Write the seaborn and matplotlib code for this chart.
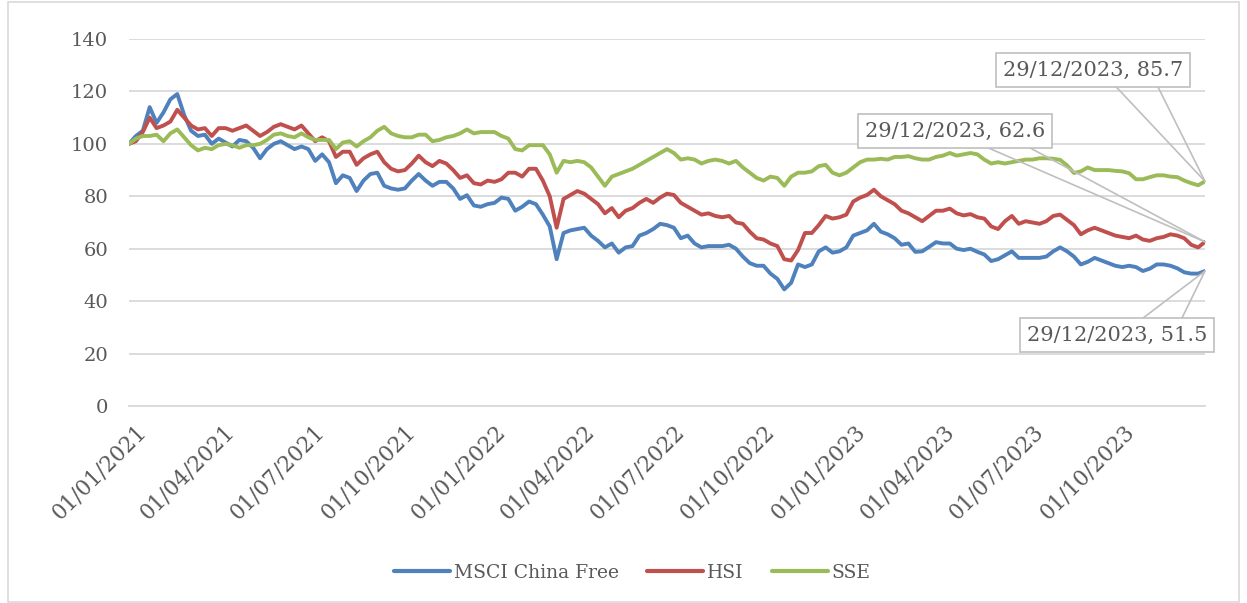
import numpy as np
import pandas as pd
import seaborn as sns
import matplotlib.pyplot as plt
import matplotlib.dates as mdates
import matplotlib.transforms as mtransforms
from matplotlib.patches import Rectangle


# Weekly readings of the rebased indices (01/01/2021 = 100)
dates = pd.date_range('2021-01-01', '2023-12-29', freq='7D')

msci = [
    100, 103, 105, 114, 108, 112, 117, 119, 111, 105, 103, 103.5, 100, 102,
    100.5, 99, 101.5, 101, 98.5, 94.5, 98, 100, 101, 99.5, 98, 99, 98,
    93.5, 96, 93, 85, 88, 87, 82, 86, 88.5, 89, 84, 83, 82.5, 83, 86, 88.5,
    86, 84, 85.5, 85.5, 83, 79, 80.4, 76.5, 76, 77,
    77.5, 79.5, 79, 74.5, 76, 78, 77, 73, 68.5, 56, 66, 67, 67.5, 68, 65, 63,
    60.5, 62, 58.5, 60.5, 61, 65, 66, 67.5, 69.5, 69,
    68, 64, 65, 62, 60.5, 61, 61, 61, 61.5, 60, 57, 54.5, 53.5, 53.5, 50.5,
    48.5, 44.5, 47, 54, 53, 54, 59, 60.5, 58.5, 59, 60.5,
    65, 66, 67, 69.5, 66.5, 65.5, 64, 61.5, 62, 58.8, 59, 60.7, 62.5, 62, 62,
    60, 59.5, 60, 58.8, 57.8, 55.3, 56, 57.5, 59, 56.5, 56.5,
    56.5, 56.5, 57, 59, 60.5, 59, 57, 54, 55, 56.5, 55.5, 54.5, 53.5, 53,
    53.5, 53, 51.5, 52.4, 54, 54, 53.5, 52.5, 51, 50.5, 50.5, 51.5,
]

hsi = [
    100, 101, 104.5, 110, 106, 107, 108.5, 113, 110, 107, 105.5, 106, 103,
    106, 106, 105, 106, 107, 105, 103, 104.5, 106.5, 107.5, 106.5, 105.5, 107,
    104,
    101, 102.5, 101, 95, 97, 97, 92, 94.5, 96, 97, 93, 90.5, 89.5, 90, 92.5,
    95.5, 93, 91.5, 93.5, 92.5, 90, 87, 88, 85, 84.5, 86,
    85.5, 86.5, 89, 89, 87.5, 90.5, 90.5, 86, 80, 68, 79, 80.5, 82, 81, 79,
    77, 73.5, 75.5, 72, 74.5, 75.5, 77.5, 79, 77.5, 79.5, 81,
    80.5, 77.5, 76, 74.5, 73, 73.5, 72.5, 72, 72.5, 70, 69.5, 66.5, 64, 63.5,
    62, 61, 56, 55.5, 59.5, 66, 66, 69, 72.5, 71.5, 72, 73,
    78, 79.5, 80.5, 82.5, 80, 78.5, 77, 74.5, 73.5, 72, 70.5, 72.5, 74.5,
    74.5, 75.3, 73.5, 72.7, 73.2, 72, 71.5, 68.5, 67.5, 70.5, 72.5, 69.5, 70.5,
    70, 69.5, 70.5, 72.5, 73, 71, 69, 65.5, 67, 68, 67, 66, 65, 64.5, 64, 65,
    63.5, 63, 64, 64.5, 65.5, 65, 64, 61.5, 60.5, 62.6,
]

sse = [
    100, 102, 103, 103, 103.5, 101, 104, 105.5, 102.5, 99.5, 97.5, 98.5, 98,
    99.5, 100, 99.5, 98.5, 99.5, 99.5, 100, 101.5, 103.5, 104, 103, 102.5, 104,
    102.5,
    101.5, 101.5, 101.5, 98, 100.5, 101, 99, 101, 102.5, 105, 106.5, 104, 103,
    102.5, 102.5, 103.5, 103.5, 101, 101.5, 102.5, 103, 104, 105.5, 104, 104.5,
    104.5,
    104.5, 103, 102, 98, 97.5, 99.5, 99.5, 99.5, 96, 89, 93.5, 93, 93.5, 93,
    91, 87.5, 84, 87.5, 88.5, 89.5, 90.5, 92, 93.5, 95, 96.5, 98,
    96.5, 94, 94.5, 94, 92.5, 93.5, 94, 93.5, 92.5, 93.5, 91, 89, 87, 86,
    87.5, 87, 84, 87.5, 89, 89, 89.5, 91.5, 92, 89, 88, 89,
    91, 93, 94, 94, 94.3, 94, 95, 95, 95.3, 94.5, 94, 94, 95, 95.5, 96.5,
    95.5, 96, 96.5, 96, 94, 92.5, 93, 92.5, 93, 93.5, 94,
    94, 94.5, 94.5, 94.3, 93.9, 91.8, 88.9, 89.5, 91, 90, 90, 90, 89.7, 89.5,
    88.8, 86.5, 86.5, 87.3, 88, 88, 87.5, 87.3, 86, 85, 84.2, 85.7,
]

series_names = ['MSCI China Free', 'HSI', 'SSE']
colors = ['#4F81BD', '#C0504D', '#9BBB59']
text_color = '#595959'
grid_color = '#D9D9D9'

df = pd.DataFrame({'Date': dates, 'MSCI China Free': msci, 'HSI': hsi, 'SSE': sse})
df_long = df.melt(id_vars='Date', var_name='Index', value_name='Value')

sns.set_style('white')
plt.rcParams['font.family'] = ['DejaVu Serif']

fig = plt.figure(figsize=(12.47, 6.03), dpi=100)
ax = fig.add_axes([129 / 1247, 1 - 406 / 603, (1205 - 129) / 1247, (406 - 39) / 603])

sns.lineplot(
    data=df_long,
    x='Date',
    y='Value',
    hue='Index',
    hue_order=series_names,
    palette=colors,
    linewidth=2.8,
    ax=ax
)

# Axes look (Excel style)
ax.set_ylim(0, 140)
ax.set_yticks(range(0, 141, 20))
ax.set_xlim(mdates.date2num(dates[0]), mdates.date2num(dates[-1]))
quarters = pd.date_range('2021-01-01', '2023-10-01', freq='QS')
ax.set_xticks(mdates.date2num(quarters))
ax.set_xticklabels([])
ax.set_xlabel('')
ax.set_ylabel('')

# slanted date labels, written by hand so they can sit like Excel's
offset = mtransforms.ScaledTranslation(6 / 100, -15 / 100, fig.dpi_scale_trans)
for q in quarters:
    ax.text(mdates.date2num(q), 0, q.strftime('%d/%m/%Y'),
            transform=ax.get_xaxis_transform() + offset,
            rotation=45, ha='right', va='top', rotation_mode='anchor',
            fontsize=15.5, color=text_color)

ax.grid(axis='y', color=grid_color, linewidth=1.3)
ax.set_axisbelow(True)
for side in ['left', 'right', 'top']:
    ax.spines[side].set_visible(False)
ax.spines['bottom'].set_color(grid_color)
ax.spines['bottom'].set_linewidth(1.3)

ax.tick_params(axis='y', length=0, pad=15, labelsize=14, labelcolor=text_color)
ax.tick_params(axis='x', length=4, width=1.3, color=grid_color, direction='out')

# Legend at the bottom
handles, labels = ax.get_legend_handles_labels()
ax.get_legend().remove()
leg = fig.legend(handles, labels, loc='center', bbox_to_anchor=(0.507, 0.05),
                 ncol=3, frameon=False, fontsize=13.5, handlelength=3.0,
                 handletextpad=0.2, columnspacing=1.5)
for t in leg.get_texts():
    t.set_color(text_color)
for h in leg.legend_handles:
    h.set_linewidth(3)


# Callouts with the last value of each series
def callout(ax, value, xytext, rely):
    xy = (mdates.date2num(dates[-1]), value)
    label = dates[-1].strftime('%d/%m/%Y') + ', ' + str(value)
    box = dict(boxstyle='square,pad=0.35', fc='white', ec='#BFBFBF', lw=1.2)
    for i, relx in enumerate([0.59, 0.84]):
        ax.annotate(
            label, xy=xy, xytext=xytext, textcoords='figure pixels',
            ha='center', va='center', fontsize=15,
            color=text_color if i == 0 else 'none',
            bbox=box if i == 0 else dict(boxstyle='square,pad=0.35', fc='none', ec='none'),
            arrowprops=dict(arrowstyle='-', color='#BFBFBF', lw=1.2,
                            relpos=(relx, rely), patchA=None,
                            shrinkA=0, shrinkB=0),
            annotation_clip=False, zorder=5 - i
        )


callout(ax, sse[-1], (1093, 533), 0)
callout(ax, hsi[-1], (955, 472), 0)
callout(ax, msci[-1], (1117, 268), 1)

# light frame around the chart area
fig.patches.append(Rectangle((8 / 1247, 1 / 603), 1231 / 1247, 600 / 603,
                             transform=fig.transFigure, fill=False,
                             edgecolor=grid_color, linewidth=1.2))

plt.savefig('out.png', dpi=100)
